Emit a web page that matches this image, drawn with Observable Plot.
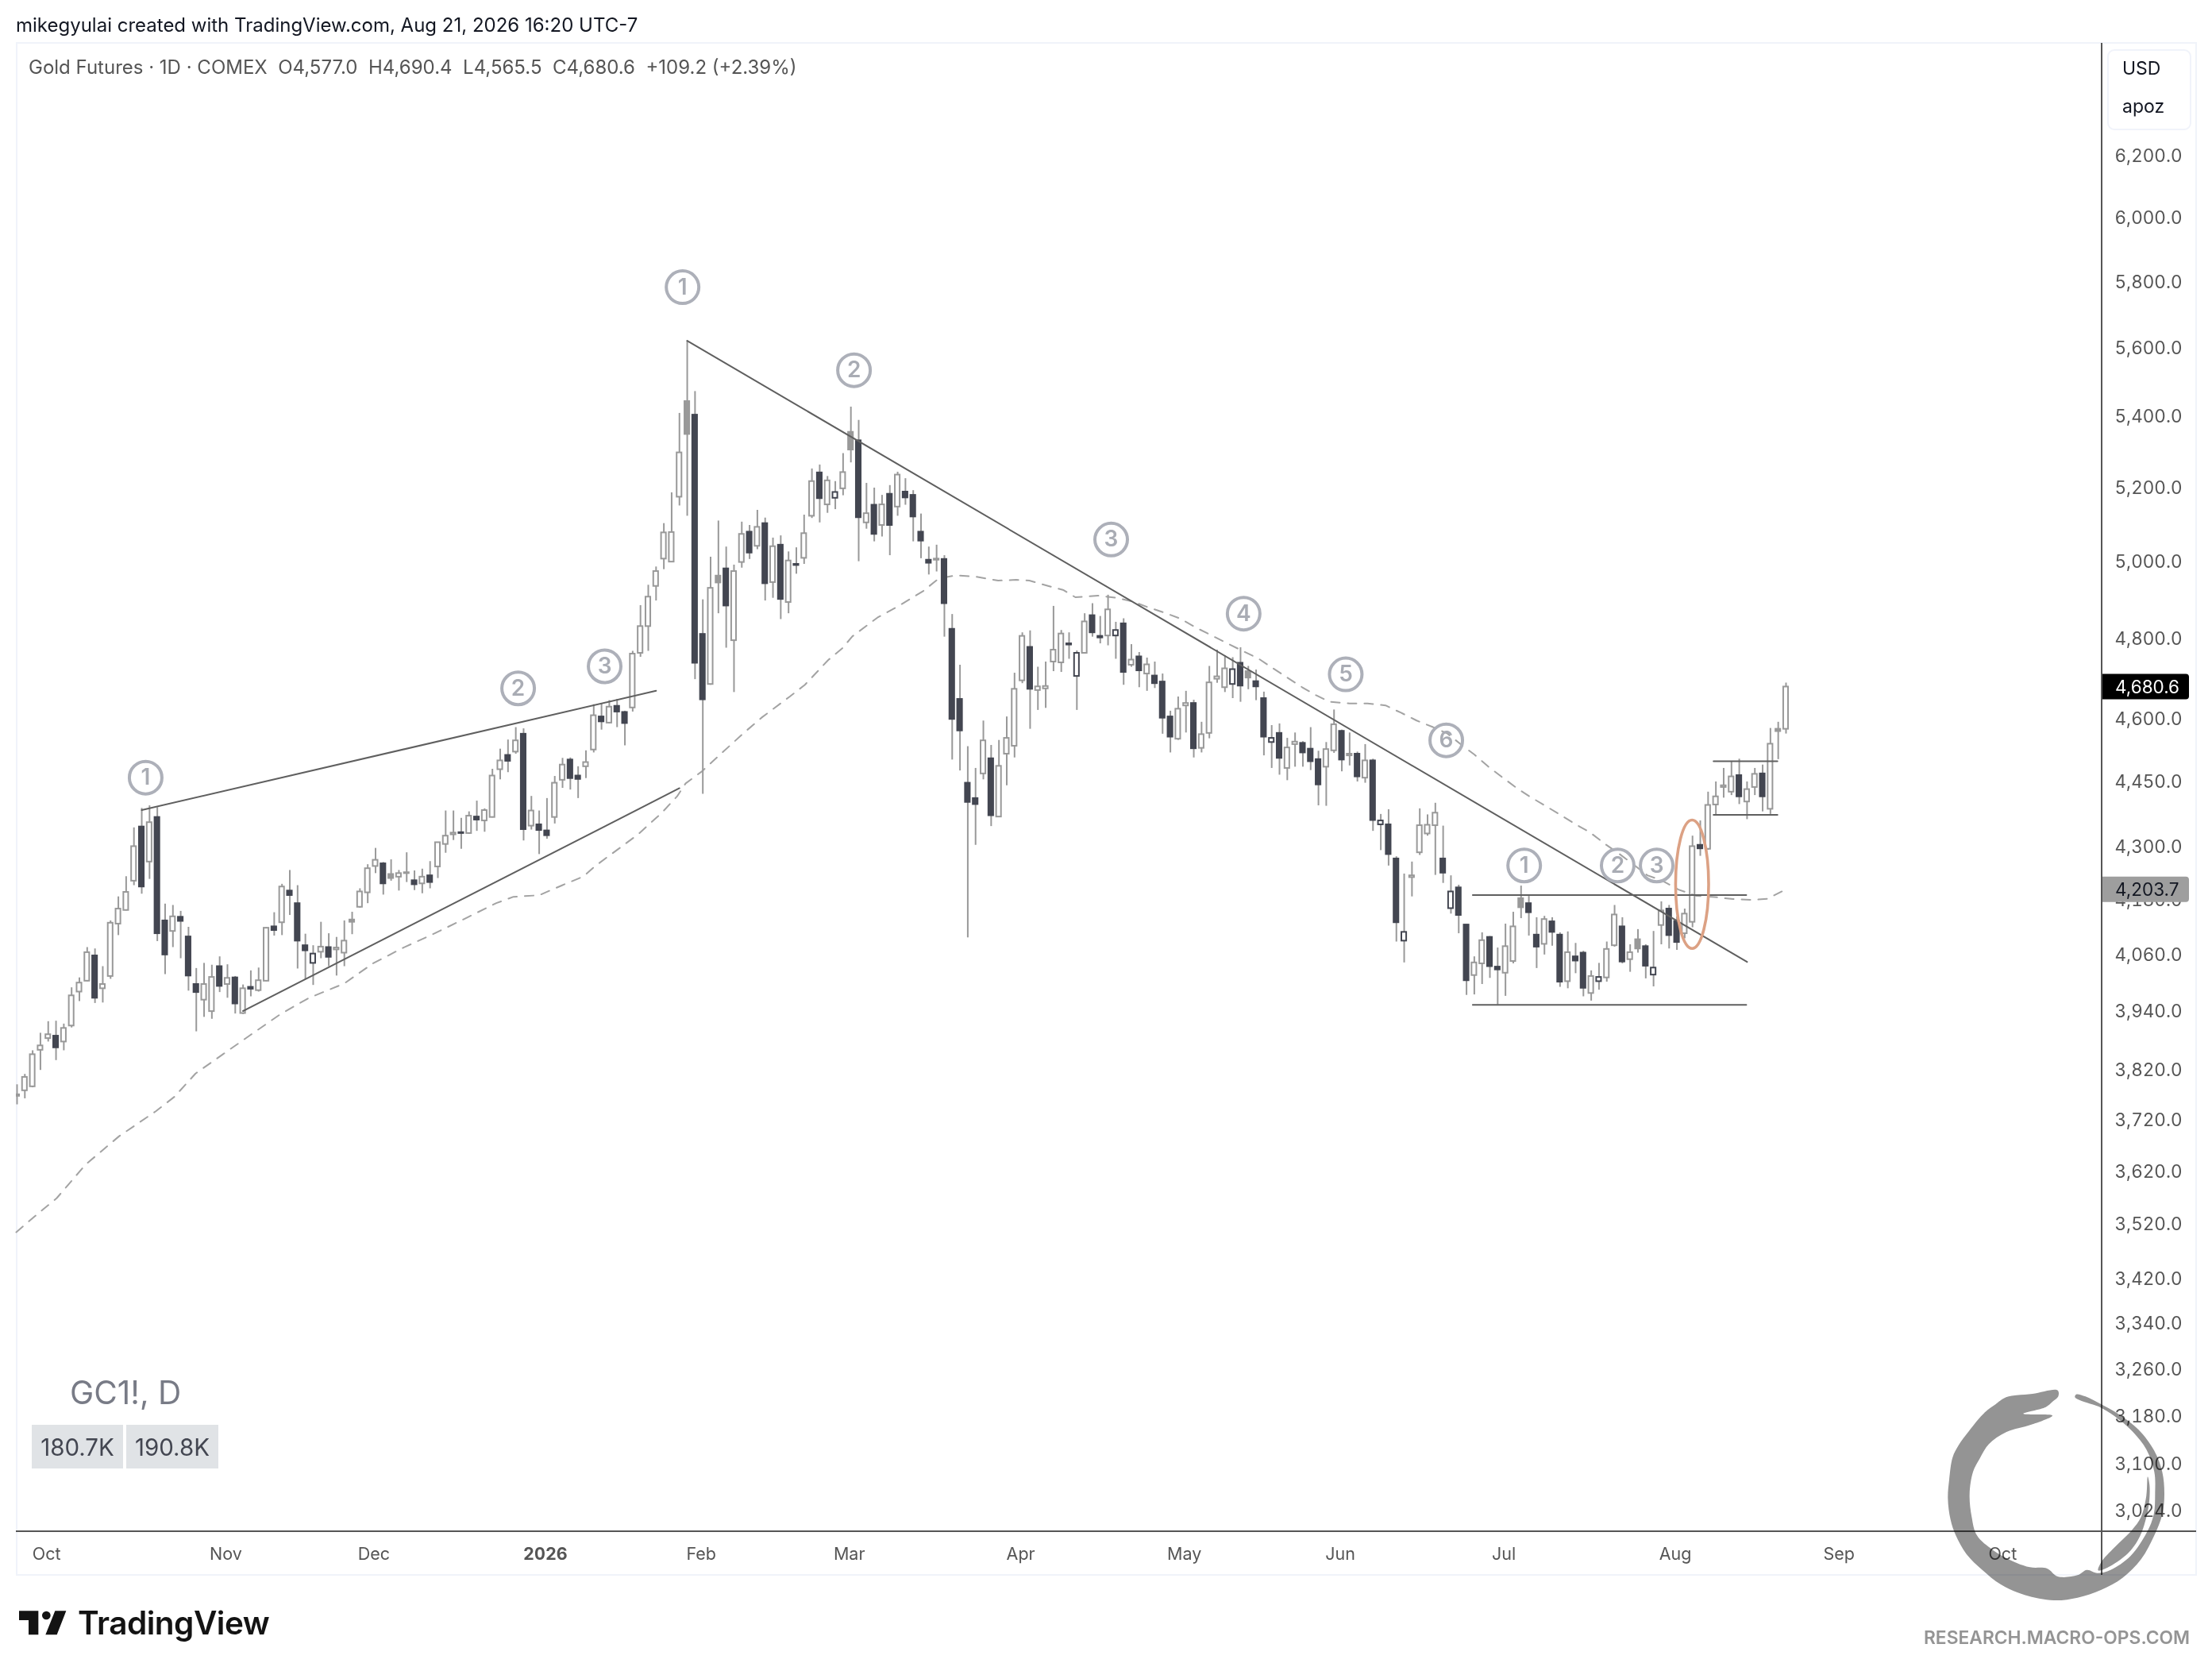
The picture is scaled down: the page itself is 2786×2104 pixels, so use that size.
<!DOCTYPE html>
<html><head><meta charset="utf-8">
<script src="https://cdn.jsdelivr.net/npm/d3@7"></script>
<script src="https://cdn.jsdelivr.net/npm/@observablehq/plot@0.6"></script>
<style>
html,body{margin:0;padding:0;background:#fff;}
#page{position:relative;width:2786px;height:2104px;overflow:hidden;font-family:Inter,sans-serif;background:#fff;}
#page>*{position:absolute;}
#chart{left:0;top:53px;}
.t{white-space:pre;line-height:1;}
.ln{background:#555;}
.fr{background:#f0f3fa;}
.pill{background:#e0e3e6;color:#434651;font-size:29.5px;display:flex;align-items:center;justify-content:center;}
</style></head><body><div id="page"></div>
<script>
const opens=[3768,3779,3787,3861,3885,3890,3878,3911,3982,4005,
4059,3989,4015,4128,4158,4223,4346,4266,4368,4135,
4112,4143,4100,3998,3965,3941,4036,3998,4012,3937,
3992,3985,4005,4122,4131,4201,4173,4081,4043,4067,
4077,4072,4065,4137,4165,4197,4256,4262,4238,4232,
4240,4224,4217,4235,4255,4306,4328,4333,4331,4369,
4360,4368,4480,4514,4522,4565,4348,4351,4337,4368,
4455,4503,4465,4487,4527,4607,4592,4633,4618,4629,
4765,4833,4937,5009,5001,5176,5445,5406,4813,4687,
4964,4983,4797,5000,5081,5043,5104,4947,5046,4895,
4995,5011,5124,5243,5155,5173,5199,5357,5333,5106,
5154,5099,5184,5149,5190,5181,5081,5006,5006,5008,
4826,4650,4448,4412,4470,4506,4369,4517,4536,4696,
4780,4672,4676,4743,4741,4789,4707,4765,4861,4808,
4809,4809,4840,4735,4756,4713,4708,4693,4607,4553,
4634,4640,4531,4567,4700,4679,4687,4740,4719,4694,
4652,4545,4567,4483,4540,4543,4529,4504,4486,4525,
4572,4513,4517,4460,4501,4351,4351,4273,4091,4231,
4287,4330,4349,4273,4162,4208,4126,4017,4042,4099,
4035,4022,4047,4184,4173,4104,4084,4133,4104,4004,
4057,4065,3979,4004,4012,4081,4122,4051,4094,4079,
4018,4125,4161,4134,4107,4132,4304,4295,4397,4438,
4427,4466,4404,4438,4470,4387,4577,4577];
const highs=[3791,3812,3860,3896,3920,3921,3915,3991,4012,4077,
4074,4036,4135,4188,4233,4344,4389,4395,4391,4172,
4169,4156,4121,4032,4043,4039,4057,4040,4015,3997,
4027,4033,4120,4153,4216,4247,4213,4106,4081,4132,
4107,4099,4135,4154,4206,4260,4297,4265,4271,4247,
4287,4246,4250,4267,4310,4383,4383,4366,4381,4406,
4388,4481,4529,4551,4581,4578,4417,4383,4412,4464,
4507,4508,4487,4525,4637,4639,4647,4650,4621,4770,
4887,4940,4988,5104,5188,5411,5623,5474,4902,5014,
5111,5041,4993,5108,5099,5140,5119,5065,5071,5028,
5039,5127,5254,5265,5233,5219,5297,5429,5391,5214,
5201,5181,5208,5245,5227,5194,5130,5041,5046,5018,
4864,4735,4535,4483,4597,4538,4550,4607,4715,4817,
4822,4730,4743,4885,4823,4817,4771,4866,4892,4859,
4914,4844,4853,4787,4767,4753,4743,4713,4621,4656,
4670,4648,4594,4732,4773,4759,4754,4779,4732,4723,
4668,4586,4590,4555,4568,4547,4581,4524,4545,4624,
4575,4568,4522,4540,4505,4375,4386,4278,4239,4266,
4388,4374,4401,4348,4235,4214,4127,4057,4109,4101,
4076,4128,4154,4212,4189,4142,4145,4142,4109,4111,
4086,4069,4027,4043,4089,4169,4142,4083,4116,4083,
4112,4177,4169,4144,4161,4325,4360,4427,4451,4483,
4500,4505,4451,4483,4491,4579,4594,4690.4];
const lows=[3751,3763,3785,3820,3878,3840,3860,3907,3962,4004,
3958,3959,4009,4103,4157,4213,4194,4227,4090,4019,
4077,4053,3984,3899,3929,3925,3981,3969,3936,3935,
3972,3982,4004,4102,4103,4147,4031,4009,3996,4053,
4036,4016,4036,4105,4163,4173,4240,4192,4223,4201,
4220,4202,4195,4206,4229,4286,4315,4295,4329,4336,
4334,4367,4456,4473,4517,4314,4339,4283,4318,4353,
4436,4432,4412,4459,4520,4575,4590,4581,4537,4619,
4755,4770,4899,4981,5000,5152,5124,4699,4422,4685,
4866,4778,4667,4985,5008,5034,4899,4906,4851,4866,
4969,4995,5118,5106,5132,5142,5180,5271,5002,5089,
5055,5068,5018,5124,5154,5055,5010,4967,4975,4806,
4503,4477,4098,4304,4456,4347,4368,4442,4508,4689,
4577,4623,4628,4719,4717,4750,4623,4764,4806,4789,
4784,4750,4685,4730,4679,4670,4677,4565,4520,4550,
4568,4508,4520,4554,4690,4667,4652,4643,4674,4647,
4513,4483,4467,4454,4486,4486,4478,4395,4394,4519,
4475,4489,4451,4448,4336,4292,4257,4089,4044,4188,
4281,4325,4236,4218,4150,4107,3975,3976,3998,4011,
3955,3973,4042,4140,4102,4032,4061,4080,3992,3989,
4021,3972,3963,3986,4003,4078,4042,4024,4065,4010,
3993,4083,4074,4071,4096,4120,4279,4293,4372,4413,
4419,4398,4363,4419,4381,4375,4504,4565.5];
const closes=[3771,3806,3852,3870,3893,3866,3906,3974,4001,4066,
3969,3998,4130,4161,4198,4301,4210,4356,4107,4061,
4144,4134,4016,3981,3998,4013,3994,4011,3957,3989,
3988,4006,4119,4114,4210,4191,4091,4070,4063,4078,
4056,4076,4091,4132,4199,4251,4270,4217,4229,4240,
4242,4215,4232,4220,4310,4325,4332,4331,4371,4362,
4384,4465,4501,4500,4549,4340,4383,4338,4326,4448,
4491,4459,4457,4497,4610,4595,4631,4619,4591,4763,
4833,4909,4976,5079,5080,5299,5351,4740,4649,4932,
4946,4886,4976,5075,5025,5094,4944,5042,4903,5004,
4992,5077,5219,5172,5221,5189,5244,5307,5120,5131,
5075,5155,5099,5237,5174,5122,5057,4998,5009,4892,
4601,4573,4403,4398,4549,4372,4488,4555,4675,4808,
4675,4681,4682,4773,4814,4786,4765,4845,4817,4804,
4876,4823,4717,4748,4721,4736,4689,4604,4558,4626,
4640,4530,4564,4691,4706,4726,4724,4683,4703,4681,
4558,4555,4507,4532,4546,4520,4499,4444,4528,4588,
4503,4517,4463,4501,4361,4360,4283,4131,4110,4235,
4349,4350,4378,4241,4199,4147,4006,4044,4092,4036,
4029,4079,4122,4164,4153,4078,4138,4110,4003,4066,
4048,3990,4015,4013,4073,4148,4046,4066,4074,4037,
4033,4157,4103,4088,4150,4301,4296,4396,4416,4442,
4463,4416,4433,4469,4416,4541,4571.4,4680.6];

const maBar=[-0.1,2.3,5.1,8.8,13.1,17.8,20.2,22.9,26.5,29.9,33.8,37.4,42,45.6,49.5,53.6,57.8,61.5,63.7,67,70,72.7,74.2,77.7,79.7,82.7,84.7,85.8,87.9,90.4,93.2,95.6,99.1,101.1,104.1,105.9,107.2,110.4,113.1,116.3,118.3,120.6,123.1,125.9,128.2,129.9,132.3,134.3,135.8,138.7,141.1,143.2,145.2,147.3,149.3,151.3,153.4,155.4,157.4,159.3,161.1,163,164.9,166.7,168.4,171,173.3,175.6,177.6,179.6,181.7,183.5,185.5,187,188.8,190.5,192.4,194.2,196.2,198.2,200,201.8,203.8,205.6,207.4,209.2,211,213.2,215.5,217.5,220.2,222.6,224.6,226.9];
const maPrice=[3506,3536,3570,3634,3689,3738,3767,3813.5,3853.6,3891.7,3935.5,3969,4000,4042,4076,4107.7,4142.6,4174,4188,4191.5,4214,4233.5,4257,4302.5,4329,4378,4417,4447.5,4476,4519,4567,4606,4656,4686,4748,4777.5,4808,4855.6,4885.6,4925,4958,4966,4962,4952,4954,4952,4938,4927,4908.5,4912.6,4907,4897,4882,4868,4853,4830,4809,4789,4769.5,4751.5,4728,4704,4680,4660,4644,4640,4640,4635,4617,4598,4582,4567,4537,4516,4487,4463,4437,4415.5,4394,4372,4352,4334,4306.6,4284.5,4260.6,4236,4225,4204,4190,4188,4183,4181,4183.5,4203.7];

const trendNames=["wedgeTop","wedgeBottom","downtrend","rangeTop","rangeBottom","flagTop","flagBottom"];
const trendBar1=[16,29,86,186.8,186.8,217.7,217.7];
const trendPrice1=[4385,3942,5623,4192,3955,4500,4374];
const trendBar2=[82,85,222,221.9,221.9,225.9,225.9];
const trendPrice2=[4671,4436,4046,4192,3955,4500,4374];

const pointLabels=["1","2","3","1","2","3","4","5","6","1","2","3"];
const pointBar=[16.5,64.3,75.4,85.4,107.4,140.4,157.4,170.5,183.4,193.4,205.4,210.4];
const pointPrice=[4461,4677,4732,5785,5536,5061,4866,4712,4550,4258,4258,4258];

const yTicks=[6200,6000,5800,5600,5400,5200,5000,4800,4600,4450,4300,4180,4060,3940,3820,3720,3620,3520,3420,3340,3260,3180,3100,3024];
const xTickBars=[4,27,46,88,107,129,150,170,191,213,234,255];
const xTickNames=["Oct","Nov","Dec","Feb","Mar","Apr","May","Jun","Jul","Aug","Sep","Oct"];
const yearTickBar=[68];
const yearTickName=["2026"];
const lastPrice=4680.6, maLast=4203.7;
const ellipseBar=215, ellipseHalfBars=2.12, ellipseTop=4361, ellipseBottom=4074;

const GRAY="#999999",DARK="#434651",LINE="#5f5f5f";
const bars=opens.map((o,i)=>({i,o,h:highs[i],l:lows[i],c:closes[i],top:Math.max(o,closes[i]),bot:Math.min(o,closes[i]),
  solid:closes[i]<o,dark:i>0&&closes[i]<closes[i-1]}));
const trends=[];trendNames.forEach((name,k)=>{trends.push({name,b:trendBar1[k],p:trendPrice1[k]},{name,b:trendBar2[k],p:trendPrice2[k]});});
const ma=maBar.map((b,i)=>({b,p:maPrice[i]}));
const points=pointLabels.map((t,i)=>({t,b:pointBar[i],p:pointPrice[i]}));

const body=(f,fill,stroke)=>Plot.rect(bars.filter(f),{x1:d=>d.i-0.31,x2:d=>d.i+0.31,y1:"bot",y2:"top",fill,stroke,strokeWidth:2,clip:true});
function badge(value,bg,fg){
  return (index,{x,y})=>{
    const g=d3.create("svg:g"),cy=y(value);
    g.append("path").attr("d",`M2647 ${cy-16}H2753a4 4 0 0 1 4 4V${cy+12}a4 4 0 0 1 -4 4H2647Z`).attr("fill",bg);
    g.append("text").attr("x",2664).attr("y",cy).attr("dy","0.36em").attr("text-anchor","start").attr("fill",fg).attr("font-size",22.5).attr("font-family","Inter,sans-serif").text(d3.format(",.1f")(value));
    return g.node();
  };
}
function orangeRing(index,{x,y}){
  const t=y(ellipseTop),b=y(ellipseBottom);
  return d3.create("svg:ellipse").attr("cx",x(ellipseBar)).attr("cy",(t+b)/2).attr("rx",x(ellipseBar+ellipseHalfBars)-x(ellipseBar)).attr("ry",(b-t)/2)
    .attr("fill","none").attr("stroke","#dca184").attr("stroke-width",3.6).node();
}
const chart=Plot.plot({
  width:2786,height:1930,marginLeft:20,marginRight:140,marginTop:0,marginBottom:55,
  style:{fontFamily:"Inter,sans-serif",background:"transparent",overflow:"visible"},
  x:{type:"linear",domain:[-0.1,267.45]},
  y:{type:"log",domain:[2991.6,6586]},
  marks:[
    Plot.line(ma,{x:"b",y:"p",stroke:"#a3a3a3",strokeWidth:2,strokeDasharray:"11 10"}),
    Plot.ruleX(bars,{x:"i",y1:"top",y2:"h",stroke:GRAY,strokeWidth:2,clip:true}),
    Plot.ruleX(bars,{x:"i",y1:"bot",y2:"l",stroke:GRAY,strokeWidth:2,clip:true}),
    body(d=>!d.solid&&!d.dark,"none",GRAY),
    body(d=>!d.solid&&d.dark,"none",DARK),
    body(d=>d.solid&&!d.dark,GRAY,GRAY),
    body(d=>d.solid&&d.dark,DARK,DARK),
    Plot.line(trends,{x:"b",y:"p",z:"name",stroke:LINE,strokeWidth:2}),
    Plot.dot(points,{x:"b",y:"p",r:20.5,fill:"none",stroke:"#adb0b9",strokeWidth:4}),
    Plot.text(points,{x:"b",y:"p",text:"t",fontSize:28,fontWeight:600,fill:"#a9acb4"}),
    orangeRing,
    Plot.axisY(yTicks,{anchor:"right",tickSize:0,tickPadding:17,fontSize:22.5,fill:"#555",label:null,tickFormat:d3.format(",.1f")}),
    Plot.axisX(xTickBars,{tickSize:0,tickPadding:20,dx:-2,fontSize:21.5,fill:"#555",label:null,tickFormat:(d,i)=>xTickNames[xTickBars.indexOf(d)]}),
    Plot.axisX(yearTickBar,{tickSize:0,tickPadding:20,dx:-2,fontSize:21.5,fontWeight:700,fill:"#555",label:null,tickFormat:()=>yearTickName[0]}),
    badge(maLast,"#9e9e9e","#131722"),
    badge(lastPrice,"#000000","#ffffff")
  ]
});
chart.id="chart";
const page=document.getElementById("page");
function box(cls,l,t,w,h,html,style){const e=document.createElement("div");e.className=cls;e.style.cssText=`left:${l}px;top:${t}px;`+(w?`width:${w}px;`:"")+(h?`height:${h}px;`:"")+(style||"");if(html)e.textContent=html;page.appendChild(e);return e;}
box("fr",20,53,2747,2);box("fr",20,1982,2747,2);box("fr",20,53,2,1931);box("fr",2765,53,2,1931);
page.appendChild(chart);
box("ln",20,1927,2746,2);box("ln",2646,54,2,1929);
box("t",20,20,0,0,"mikegyulai created with TradingView.com, Aug 21, 2026 16:20 UTC-7","font-size:24px;color:#131722;");
box("t",36,73,0,0,"Gold Futures · 1D · COMEX  O4,577.0  H4,690.4  L4,565.5  C4,680.6  +109.2 (+2.39%)","font-size:24px;color:#555;");
box("",2654,62,102,98,"","border:2px solid #f0f3fa;border-radius:9px;background:#fff;");
box("t",2673,75,0,0,"USD","font-size:23px;color:#131722;");
box("t",2673,123,0,0,"apoz","font-size:23px;color:#131722;");
box("t",88,1734,0,0,"GC1!, D","font-size:40.5px;color:#787b86;");
box("pill",40,1794,115,55,"180.7K");
box("pill",159,1794,116,55,"190.8K");
box("t",98,2024,0,0,"TradingView","font-size:40.5px;font-weight:600;color:#131313;letter-spacing:-0.5px;");
box("t",2423,2051,0,0,"RESEARCH.MACRO-OPS.COM","font-size:22.8px;font-weight:600;color:#949494;");
// TradingView mark + enso logo
const tv=d3.create("svg").attr("width",500).attr("height",424).attr("viewBox","0 0 1500 1272").style("left","0px").style("top","1680px");
tv.append("path").attr("d","M72 1045H145V1135H108V1080H72Z M250 1045L215 1135H172L208 1045Z").attr("fill","#131313");
tv.append("circle").attr("cx",175).attr("cy",1062).attr("r",16).attr("fill","#131313");
page.appendChild(tv.node());
const ringOuter=[[875,152],[877,175],[855,195],[830,215],[745,240],[855,247],[780,280],[680,310],[615,355],[580,410],[555,460],[542,545],[550,630],[570,700],[630,755],[700,795],[770,820],[835,825],[875,855],[950,850],[985,830],[1025,842],[1075,830],[1150,778],[1212,688],[1238,620],[1243,540],[1240,460],[1210,375],[1160,310],[1110,265],[1040,218],[960,190],[940,178],[945,167],[980,175],[1040,205],[1110,245],[1180,300],[1240,380],[1270,460],[1278,545],[1270,620],[1240,700],[1190,790],[1120,860],[1040,905],[950,935],[860,945],[750,925],[660,885],[590,830],[530,770],[490,700],[470,640],[460,560],[465,490],[478,405],[500,360],[540,305],[600,235],[640,205],[680,178],[780,165]];
const ringInner=[[1215,478],[1210,550],[1190,630],[1155,680],[1090,745],[1040,800],[1028,832],[1062,822],[1140,768],[1178,718],[1202,660],[1220,580],[1222,510]];
const ens=d3.create("svg").attr("width",486).attr("height",404).attr("viewBox","0 0 1458 1212").style("left","2300px").style("top","1700px").style("mix-blend-mode","multiply");
const lg=d3.line().curve(d3.curveCatmullRomClosed.alpha(0.5));
ens.append("path").attr("d",lg(ringOuter)).attr("fill","#949494");
ens.append("path").attr("d",lg(ringInner)).attr("fill","#949494");
page.appendChild(ens.node());
</script></body></html>
